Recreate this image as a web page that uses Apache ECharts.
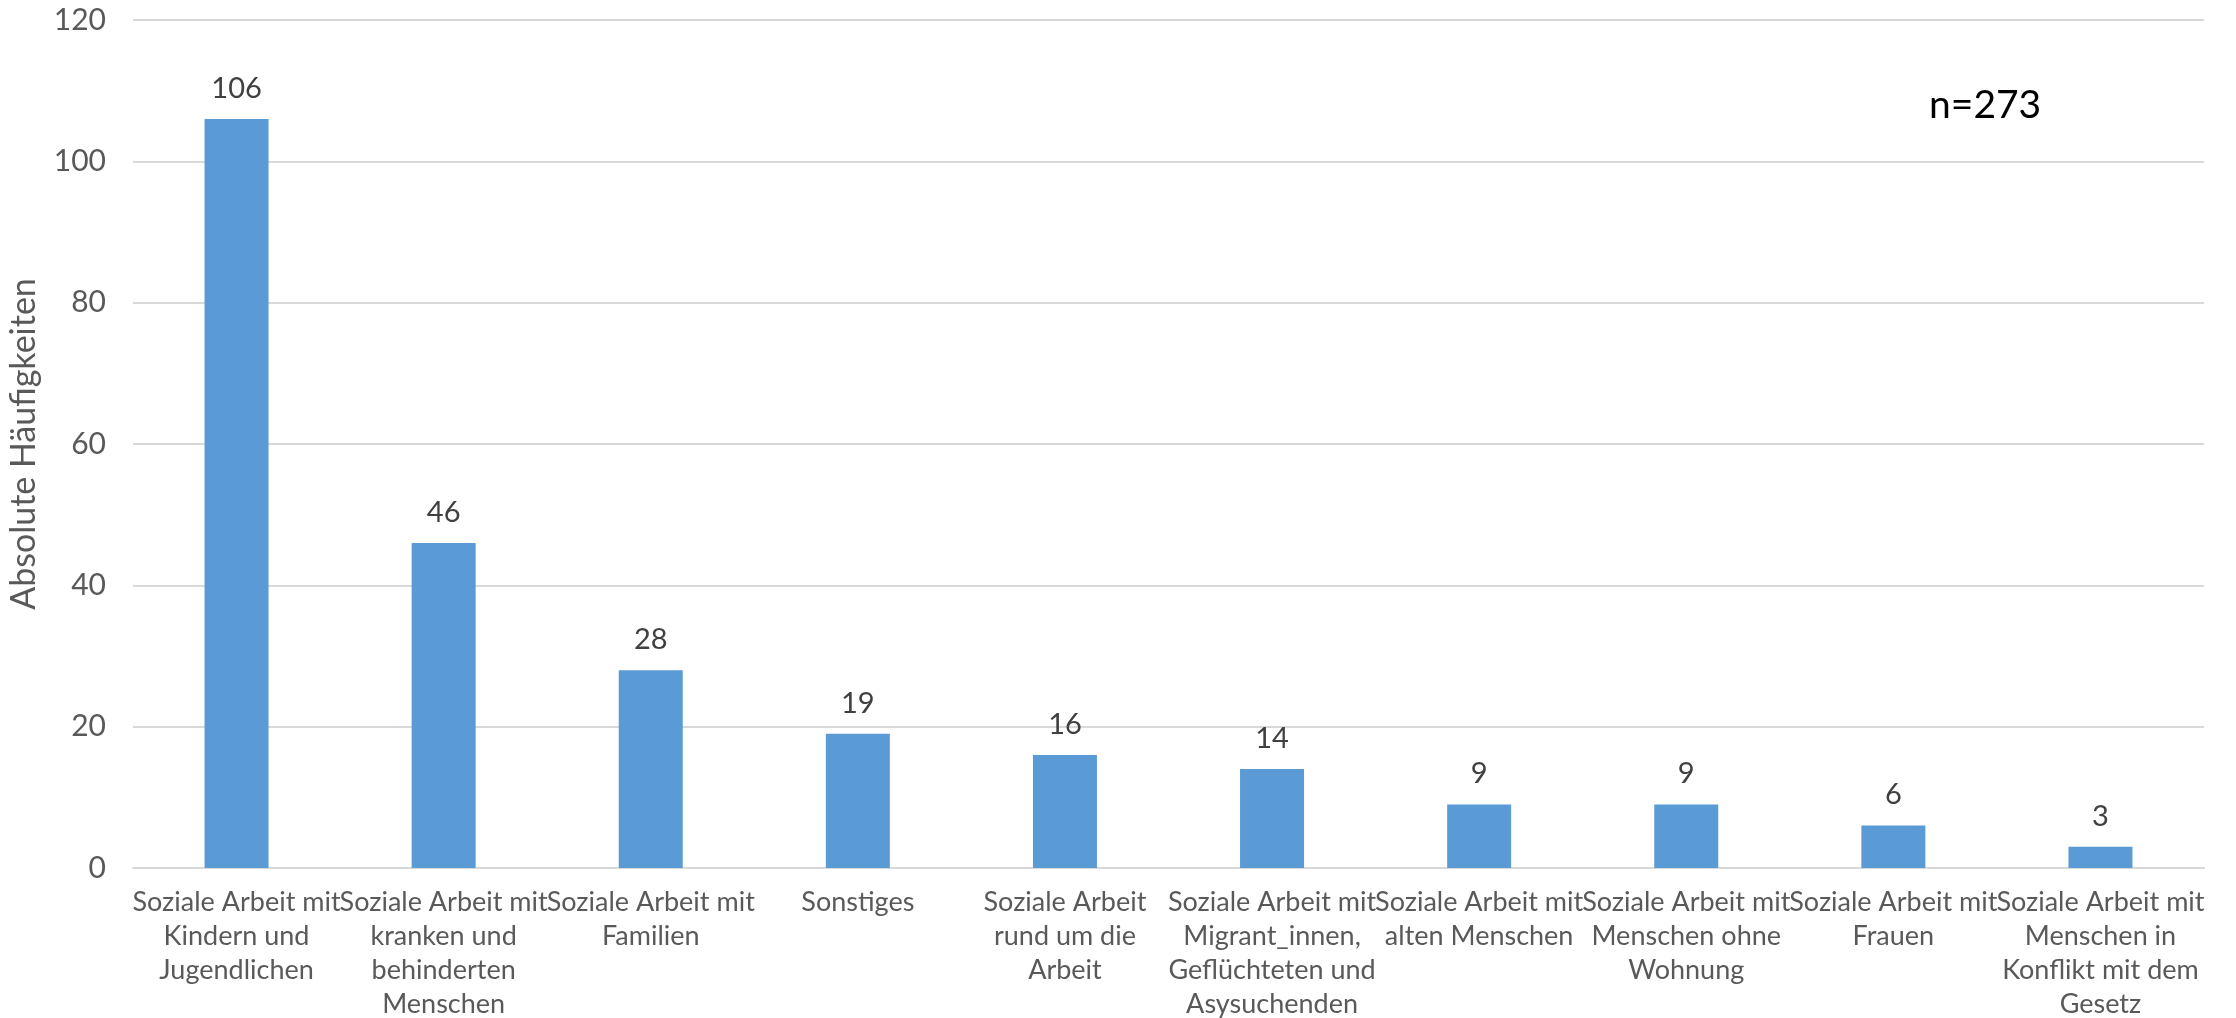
<!DOCTYPE html>
<html>
<head>
<meta charset="utf-8">
<title>Arbeitsfelder der Sozialen Arbeit</title>
<script src="https://cdn.jsdelivr.net/npm/echarts@6/dist/echarts.min.js"></script>
<style>
  html, body { margin: 0; padding: 0; background: #fff; }
  #chart { width: 2236px; height: 1018px; }
</style>
</head>
<body>
<div id="chart"></div>
<script>
// Arbeitsfelder (mit Zeilenumbrüchen für die Achsenbeschriftung)
const categories = [
  'Soziale Arbeit mit\nKindern und\nJugendlichen',
  'Soziale Arbeit mit\nkranken und\nbehinderten\nMenschen',
  'Soziale Arbeit mit\nFamilien',
  'Sonstiges',
  'Soziale Arbeit\nrund um die\nArbeit',
  'Soziale Arbeit mit\nMigrant_innen,\nGeflüchteten und\nAsysuchenden',
  'Soziale Arbeit mit\nalten Menschen',
  'Soziale Arbeit mit\nMenschen ohne\nWohnung',
  'Soziale Arbeit mit\nFrauen',
  'Soziale Arbeit mit\nMenschen in\nKonflikt mit dem\nGesetz'
];
// Absolute Häufigkeiten je Arbeitsfeld
const counts = [106, 46, 28, 19, 16, 14, 9, 9, 6, 3];
const sampleNote = 'n=273';
const yAxisTitle = 'Absolute Häufigkeiten';

const FONT = 'Lato, "Open Sans", sans-serif';

const chart = echarts.init(document.getElementById('chart'), null, { renderer: 'canvas' });
chart.setOption({
  animation: false,
  backgroundColor: '#ffffff',
  grid: {
    left: 133, right: 32, top: 20, bottom: 150,
    containLabel: false,
    outerBoundsMode: 'none'
  },
  graphic: [{
    type: 'text',
    left: 1929,
    top: 86,
    style: { text: sampleNote, fill: '#000000', font: '39px ' + FONT }
  }],
  xAxis: {
    type: 'category',
    data: categories,
    axisLine: { show: true, lineStyle: { color: '#D9D9D9', width: 2 } },
    axisTick: { show: false },
    axisLabel: {
      interval: 0,
      margin: 17,
      color: '#595959',
      fontFamily: FONT,
      fontSize: 27,
      lineHeight: 34,
      align: 'center'
    }
  },
  yAxis: {
    type: 'value',
    min: 0,
    max: 120,
    interval: 20,
    name: yAxisTitle,
    nameLocation: 'middle',
    nameGap: 92,
    nameRotate: 90,
    nameTextStyle: { color: '#595959', fontFamily: FONT, fontSize: 34 },
    axisLine: { show: false },
    axisTick: { show: false },
    axisLabel: { color: '#595959', fontFamily: FONT, fontSize: 30, margin: 27 },
    splitLine: { lineStyle: { color: '#D9D9D9', width: 2 } }
  },
  series: [{
    type: 'bar',
    data: counts,
    barWidth: 64,
    itemStyle: { color: '#5B9BD5' },
    label: {
      show: true,
      position: 'top',
      distance: 16,
      color: '#404040',
      fontFamily: FONT,
      fontSize: 29
    }
  }]
});
</script>
</body>
</html>
